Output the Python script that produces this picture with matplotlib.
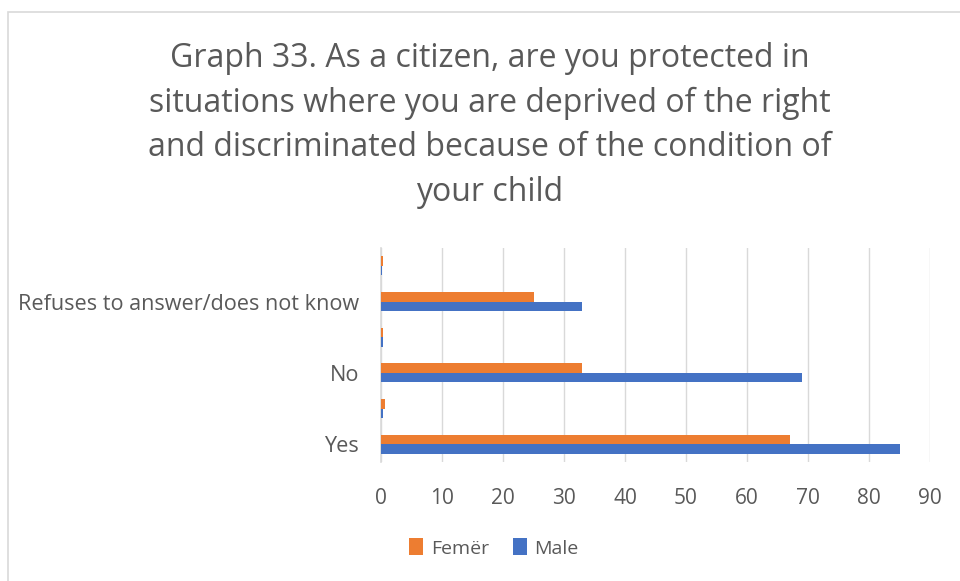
import matplotlib.pyplot as plt
import numpy as np
from matplotlib.patches import Rectangle

# === Data (bottom to top, as drawn) ===
categories = ["Yes", "", "No", "", "Refuses to answer/does not know", ""]
femer = [67, 0.6, 33, 0.3, 25, 0.3]
male = [85, 0.4, 69, 0.4, 33, 0.2]
xticks = [0, 10, 20, 30, 40, 50, 60, 70, 80, 90]

title = ("Graph 33. As a citizen, are you protected in\n"
         "situations where you are deprived of the right\n"
         "and discriminated because of the condition of\n"
         "your child")

orange = "#ED7D31"
blue = "#4472C4"
text_col = "#595959"

plt.rcParams["font.family"] = ["Open Sans", "DejaVu Sans"]

fig = plt.figure(figsize=(9.6, 5.81), dpi=100)
# chart border
fig.patches.append(Rectangle((8 / 960, -0.1), 1.1, 1 - 12 / 581 + 0.1,
                             transform=fig.transFigure, fill=False,
                             edgecolor="#d9d9d9", linewidth=1.2))

ax = fig.add_axes([381 / 960, 1 - 462 / 581, (930 - 381) / 960, (462 - 248) / 581])

y = np.arange(len(categories))
h = 0.27
ax.barh(y + h / 2, femer, height=h, color=orange, label="Femër", zorder=3)
ax.barh(y - h / 2, male, height=h, color=blue, label="Male", zorder=3)

ax.set_xlim(0, 90)
ax.set_ylim(-0.5, len(categories) - 0.5)
ax.set_xticks(xticks)
ax.set_yticks(y)
ax.set_yticklabels(categories)
ax.grid(axis="x", color="#d9d9d9", linewidth=1, zorder=0)
for s in ["top", "right", "bottom"]:
    ax.spines[s].set_visible(False)
ax.spines["left"].set_color("#d9d9d9")
ax.spines["left"].set_linewidth(1.2)
ax.tick_params(axis="both", length=0, labelsize=15, colors=text_col)
ax.tick_params(axis="y", labelsize=15.6)
ax.tick_params(axis="x", pad=19)
ax.tick_params(axis="y", pad=16)

fig.text(0.51, 1 - 42 / 581, title, ha="center", va="top", fontsize=23,
         color=text_col, linespacing=1.46)

fig.legend(loc="center", bbox_to_anchor=(494 / 960, 1 - 548 / 581), ncol=2,
           frameon=False, fontsize=14, handlelength=0.72, handleheight=0.95,
           handletextpad=0.4, columnspacing=1.2, labelcolor=text_col)

plt.savefig("out.png", dpi=100)
